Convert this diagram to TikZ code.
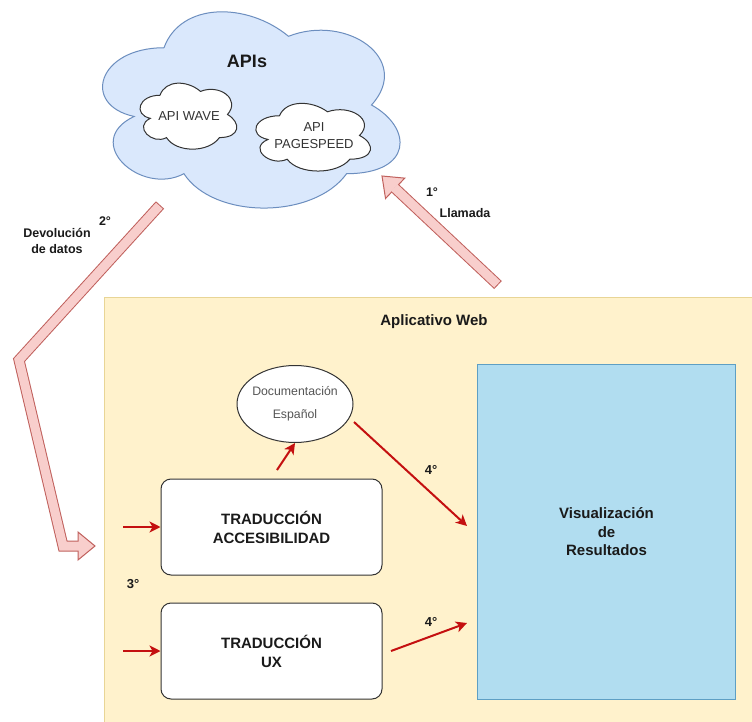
\documentclass[tikz,border=0pt]{standalone}
\usepackage{fontspec}
\setmainfont{Liberation Sans}
\usetikzlibrary{shapes.geometric,arrows.meta,calc}

\definecolor{cloudfill}{HTML}{DAE8FC}
\definecolor{cloudline}{HTML}{6C8EBF}
\definecolor{appfill}{HTML}{FFF2CC}
\definecolor{appline}{HTML}{E8D596}
\definecolor{visfill}{HTML}{B1DDF0}
\definecolor{visline}{HTML}{5E9FC4}
\definecolor{flowred}{HTML}{C41010}
\definecolor{bigfill}{HTML}{F8CECC}
\definecolor{bigline}{HTML}{C0605C}
\definecolor{ink}{HTML}{1A1A1A}
\definecolor{boxline}{HTML}{333333}
\definecolor{softink}{HTML}{555555}

% cloud outline in a w x h box whose top left corner is (x,y)
\newcommand\cloudpath[5]{%
  \begin{scope}[shift={(#2,#3)}, xscale=#4, yscale=#5]
    \path[#1] (0.25,0.25)
      .. controls (0.05,0.25) and (0,0.5) .. (0.16,0.55)
      .. controls (0,0.66) and (0.18,0.9) .. (0.31,0.8)
      .. controls (0.4,1) and (0.7,1) .. (0.8,0.8)
      .. controls (1,0.8) and (1,0.6) .. (0.875,0.5)
      .. controls (1,0.3) and (0.8,0.1) .. (0.625,0.2)
      .. controls (0.5,0.05) and (0.3,0.05) .. (0.25,0.25) -- cycle;
  \end{scope}}

\tikzset{
  bigcloud/.style={fill=cloudfill, draw=cloudline, line width=1pt},
  smallcloud/.style={fill=white, draw=boxline, line width=1pt},
  lbl/.style={font=\fontsize{12.5}{16}\selectfont\bfseries, text=ink, inner sep=0pt, align=center},
  steplbl/.style={font=\fontsize{13}{16}\selectfont\bfseries, text=ink, inner sep=0pt},
  boxnode/.style={draw=boxline, line width=1pt, fill=white, rounded corners=10pt,
    minimum width=221pt, minimum height=96pt, inner sep=0pt,
    font=\fontsize{15}{19}\selectfont\bfseries, align=center, text=ink},
  redarrow/.style={draw=flowred, line width=2pt, -{Stealth[length=11pt,width=11pt,inset=3pt]}},
  fatouter/.style={draw=bigline, line width=11pt, line join=miter},
  fatinner/.style={draw=bigfill, line width=9pt, line join=miter},
  fathead/.style={fill=bigfill, draw=bigline, line width=1pt, line join=miter},
}

\begin{document}
\begin{tikzpicture}[x=1pt, y=-1pt]
\useasboundingbox (0,0) rectangle (752,722);
\fill[white] (0,0) rectangle (752,722);

% ---- web application container ----
\node[fill=appfill, draw=appline, line width=1pt, anchor=north west,
      minimum width=652pt, minimum height=428pt, inner sep=0pt] (app) at (104,297) {};
\node[font=\fontsize{15}{18}\selectfont\bfseries, text=ink] (apptitle) at (434,322) {Aplicativo Web};

% ---- APIs cloud ----
\cloudpath{bigcloud}{81}{-9.5}{332}{229}
\node[font=\fontsize{18}{20}\selectfont\bfseries, text=ink] (apis) at (247,61) {APIs};
\cloudpath{smallcloud}{133}{76}{108}{77}
\node[font=\fontsize{13}{17}\selectfont, text=boxline] (wave) at (189,116) {API WAVE};
\cloudpath{smallcloud}{247.5}{96}{128}{79}
\node[font=\fontsize{13}{17.6}\selectfont, text=boxline, align=center] (pagespeed) at (314,135.5) {API\\PAGESPEED};

% ---- results panel ----
\node[draw=visline, fill=visfill, line width=1pt, anchor=north west,
      minimum width=258pt, minimum height=335pt, inner sep=0pt,
      font=\fontsize{15}{18.5}\selectfont\bfseries, align=center, text=ink] (vis) at (477,364)
      {Visualización\\de\\Resultados};

% ---- translation boxes ----
\node[boxnode] (acc) at (271.5,527) {TRADUCCIÓN\\ACCESIBILIDAD};
\node[boxnode] (ux) at (271.5,651) {TRADUCCIÓN\\UX};

% ---- documentation ellipse ----
\node[ellipse, draw=boxline, fill=white, line width=1pt, minimum width=116pt, minimum height=77pt,
      inner xsep=-8pt, inner ysep=-4pt, font=\fontsize{12.3}{23}\selectfont, text=softink, align=center] (doc) at (295,404)
      {Documentación\\Español};

% ---- red flow arrows ----
\coordinate (in1) at (123,527);
\coordinate (in2) at (123,651);
\draw[redarrow] (in1) -- (acc.west);
\draw[redarrow] (in2) -- (ux.west);
\coordinate (accout) at (277,470);
\draw[redarrow] (accout) -- (doc.south);
\coordinate (docout) at (354,422);
\coordinate (visin1) at (467,526);
\draw[redarrow] (docout) -- (visin1);
\coordinate (uxout) at (391,651);
\coordinate (visin2) at (467,623);
\draw[redarrow] (uxout) -- (visin2);

\node[steplbl] (s4a) at (431,470) {4°};
\node[steplbl] (s4b) at (431,622) {4°};
\node[steplbl] (s3) at (133,584) {3°};

% ---- call arrow (1°) ----
\coordinate (ctail) at (498,285);
\coordinate (ctip) at (382,176);
\coordinate (cbase) at ($(ctip)!18pt!(ctail)$);
\draw[fatouter] (ctail) -- (cbase);
\filldraw[fathead] ($(cbase)!14pt!90:(ctip)$) -- (ctip) -- ($(cbase)!14pt!-90:(ctip)$) -- cycle;
\draw[fatinner, shorten <=1pt] (ctail) -- ($(cbase)!1pt!(ctip)$);
\node[lbl] (s1) at (432,192) {1°};
\node[lbl] (call) at (465,213) {Llamada};

% ---- data return arrow (2°) ----
\coordinate (r0) at (160,205);
\coordinate (r1) at (19,360);
\coordinate (r2) at (63,546);
\coordinate (rtip) at (95,546);
\coordinate (rbase) at (78,546);
\draw[fatouter] (r0) -- (r1) -- (r2) -- (rbase);
\filldraw[fathead] ($(rbase)!14pt!90:(rtip)$) -- (rtip) -- ($(rbase)!14pt!-90:(rtip)$) -- cycle;
\draw[fatinner, shorten <=1pt] (r0) -- (r1) -- (r2) -- ($(rbase)!1pt!(rtip)$);
\node[lbl] (s2) at (105,221) {2°};
\node[lbl] (ret) at (57,241) {Devolución\\de datos};
\end{tikzpicture}
\end{document}
